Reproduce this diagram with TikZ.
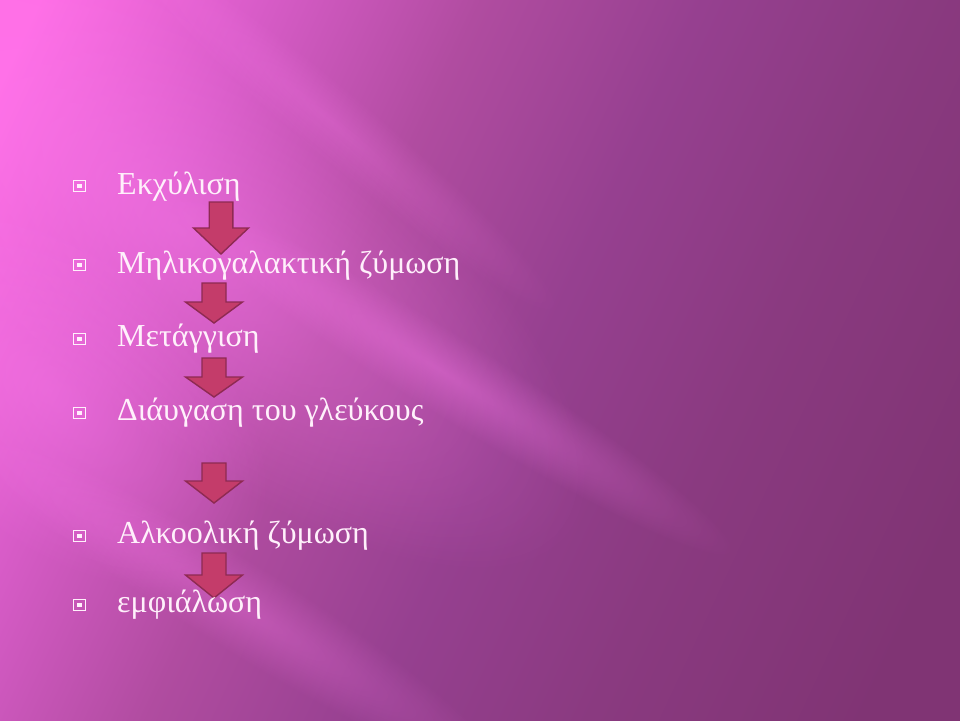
\documentclass[tikz,border=0pt]{standalone}
\usepackage{fontspec}
\setmainfont{Liberation Serif}
\usetikzlibrary{fadings}
\definecolor{bg0}{HTML}{FF70E8}
\definecolor{bg1}{HTML}{FF6EE6}
\definecolor{bg2}{HTML}{D85CC8}
\definecolor{bg3}{HTML}{B04CA0}
\definecolor{bg4}{HTML}{964090}
\definecolor{bg5}{HTML}{8A3A80}
\definecolor{bg6}{HTML}{803474}
\definecolor{glowc}{HTML}{FF7CF0}
\definecolor{txtc}{HTML}{FFF0FB}
\definecolor{arrfill}{HTML}{C43C6A}
\definecolor{arrline}{HTML}{8E2A52}
\pgfdeclarehorizontalshading{bgshade}{1500bp}{color(0bp)=(bg0); color(250bp)=(bg1); color(450bp)=(bg2); color(650bp)=(bg3); color(850bp)=(bg4); color(1050bp)=(bg5); color(1300bp)=(bg6); color(1600bp)=(bg6)}
\tikzfading[name=softglow, inner color=transparent!0, outer color=transparent!100]
\tikzset{
  itemtext/.style={anchor=base west, inner sep=0pt, text=txtc, font=\fontsize{32}{38}\selectfont},
  bulletbox/.style={draw=txtc, line width=1.3pt, minimum size=11.5pt, inner sep=0pt,
     path picture={\fill[txtc] ([shift={(-2.3,-2.3)}]path picture bounding box.center) rectangle ([shift={(2.3,2.3)}]path picture bounding box.center);}},
  blockarrow/.style={fill=arrfill, draw=arrline, line width=1.4pt, line join=miter},
  glow/.style={fill=glowc, path fading=softglow}
}
\newcommand{\blkarrow}[6]{% cx, top, neck, tip, shaft half width, head half width
  \path[blockarrow] (#1-#5,#2) -- (#1+#5,#2) -- (#1+#5,#3) -- (#1+#6,#3) -- (#1,#4) -- (#1-#6,#3) -- (#1-#5,#3) -- cycle;}
% glow band: cx, cy, angle, length, thickness, opacity
\newcommand{\glowband}[6]{%
  \begin{scope}[transform canvas={shift={(#1,#2)}, rotate=#3}]
    \fill[glow, opacity=#6] (-#4/2,-#5/2) rectangle (#4/2,#5/2);
  \end{scope}}
\begin{document}
\begin{tikzpicture}[x=1pt,y=-1pt]
\useasboundingbox (0,0) rectangle (960,720);
\begin{scope}
  \clip (0,0) rectangle (960,720);
  \node[rotate=-25, inner sep=0pt] (bg) at (480,360) {\pgfuseshading{bgshade}};
\end{scope}
% light streaks
\glowband{180}{230}{-38}{1000}{380}{0.45}
\glowband{50}{390}{-40}{520}{300}{0.4}
\glowband{440}{370}{-32}{700}{80}{0.35}
\glowband{230}{600}{-32}{650}{90}{0.3}
\glowband{330}{120}{-40}{600}{70}{0.25}
% arrows
\blkarrow{221}{202}{228}{254}{11.8}{27.5}
\blkarrow{214}{283}{302}{323}{12}{28.5}
\blkarrow{214}{358}{377}{397}{12}{28.5}
\blkarrow{214}{463}{481}{503}{12}{28.5}
\blkarrow{214}{553}{575}{598}{12}{28.5}
% bullets
\node[bulletbox] (b1) at (79.5,186) {};
\node[bulletbox] (b2) at (79.5,265) {};
\node[bulletbox] (b3) at (79.5,339) {};
\node[bulletbox] (b4) at (79.5,413) {};
\node[bulletbox] (b5) at (79.5,536) {};
\node[bulletbox] (b6) at (79.5,605) {};
% items
\node[itemtext] (t1) at (117,194) {Εκχύλιση};
\node[itemtext] (t2) at (117,273) {Μηλικογαλακτική ζύμωση};
\node[itemtext] (t3) at (117,346) {Μετάγγιση};
\node[itemtext] (t4) at (117,420) {Διάυγαση του γλεύκους};
\node[itemtext] (t5) at (117,543) {Αλκοολική ζύμωση};
\node[itemtext] (t6) at (117,612) {εμφιάλωση};
\end{tikzpicture}
\end{document}
